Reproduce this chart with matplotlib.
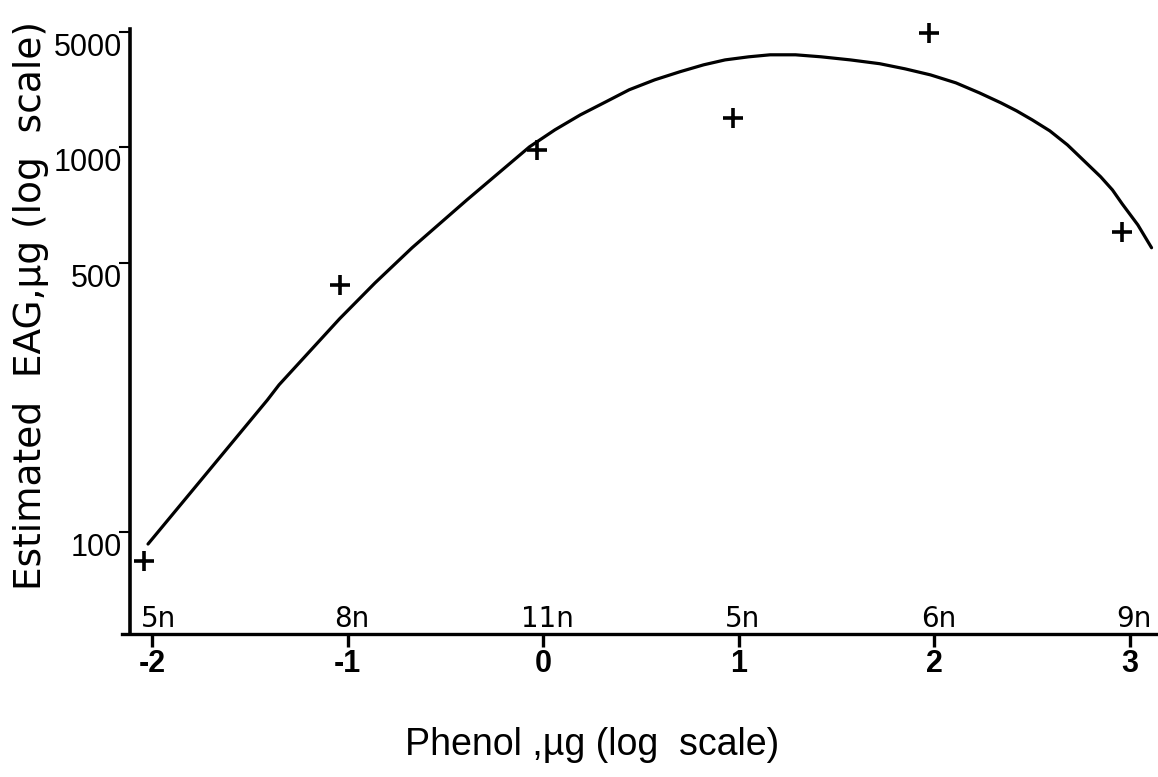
import numpy as np
import matplotlib
matplotlib.use("Agg")
import matplotlib.pyplot as plt

# Observed EAG responses (+ markers)
phenol_log = [-2.04, -1.04, -0.03, 0.97, 1.97, 2.96]
eag_obs = [84, 438, 982, 1500, 4930, 601]

# Number of insects tested at each dose
dose_n = ['5n', '8n', '11n', '5n', '6n', '9n']

# Fitted response curve
curve_x = [-2.02, -1.41, -1.35, -1.04, -0.86, -0.67, -0.39, -0.07, 0.06, 0.19,
           0.32, 0.44, 0.57, 0.70, 0.82, 0.93, 1.05, 1.16, 1.29, 1.42,
           1.57, 1.72, 1.85, 1.98, 2.11, 2.23, 2.34, 2.42, 2.50, 2.59,
           2.68, 2.76, 2.85, 2.91, 2.96, 3.04, 3.11]
curve_y = [93, 220, 241, 358, 443, 547, 728, 1000, 1269, 1565,
           1878, 2225, 2556, 2865, 3154, 3380, 3528, 3630, 3630, 3530,
           3380, 3205, 2982, 2740, 2450, 2130, 1852, 1656, 1459, 1251,
           1028, 925, 836, 773, 711, 627, 547]

x_ticks = [-2, -1, 0, 1, 2, 3]
x_tick_labels = ['-2', '-1', '0', '1', '2', '3']
y_ticks = [100, 500, 1000, 5000]
y_tick_labels = ['100', '500', '1000', '5000']

# Log axis with the decade above 1000 compressed
K = 0.427


def forward(v):
    lg = np.log10(np.clip(v, 1e-9, None))
    return np.where(lg <= 3, lg, 3 + (lg - 3) * K)


def inverse(u):
    u = np.asarray(u, dtype=float)
    return np.where(u <= 3, 10 ** u, 10 ** (3 + (u - 3) / K))


fig = plt.figure(figsize=(11.58, 7.77), dpi=100)
ax = fig.add_axes([122 / 1158, (777 - 634) / 777, 1 - 122 / 1158, (634 - 29) / 777])

ax.set_yscale('function', functions=(forward, inverse))
ax.set_xlim(-2.153, 3.143)
ax.set_ylim(54.3, 5210)

ax.plot(curve_x, curve_y, color='black', linewidth=2.3,
        solid_capstyle='round', solid_joinstyle='round')
ax.plot(phenol_log, eag_obs, linestyle='none', marker='+', markersize=15,
        markeredgewidth=2.6, color='black', clip_on=False)

# Axes frame: only left and bottom lines
for side in ['top', 'right']:
    ax.spines[side].set_visible(False)
ax.spines['left'].set_position(('data', -2.112))
ax.spines['left'].set_linewidth(2.6)
ax.spines['bottom'].set_linewidth(2.4)

ax.set_xticks(x_ticks)
ax.set_xticklabels(x_tick_labels, family='Liberation Sans', fontweight='bold')
ax.tick_params(axis='x', direction='out', length=9, width=2.4, pad=2, labelsize=22)

ax.set_yticks(y_ticks)
ax.yaxis.set_minor_locator(matplotlib.ticker.NullLocator())
ax.tick_params(axis='y', direction='out', length=8, width=1.5, labelleft=False)
for v, lab in zip(y_ticks, y_tick_labels):
    ax.annotate(lab, xy=(-2.112, v), xycoords='data', xytext=(-6, -1),
                textcoords='offset points', ha='right', va='top',
                fontsize=22, family='Liberation Sans', annotation_clip=False)

# Sample sizes above the x axis
for x, lab in zip(x_ticks, dose_n):
    ax.annotate(lab, xy=(x, 0), xycoords=ax.get_xaxis_transform(), xytext=(5 if x == -2 else 3, 5),
                textcoords='offset points', ha='center', va='baseline',
                fontsize=20, family='DejaVu Sans')

fig.text(0.027, 1 - 305 / 777, 'Estimated  EAG,µg (log  scale)', rotation=90,
         ha='center', va='center', fontsize=27, family='DejaVu Sans')
fig.text(592 / 1158, 1 - 745 / 777, 'Phenol ,µg (log  scale)',
         ha='center', va='center', fontsize=27, family='Liberation Sans')

plt.savefig('out.png', dpi=100)
